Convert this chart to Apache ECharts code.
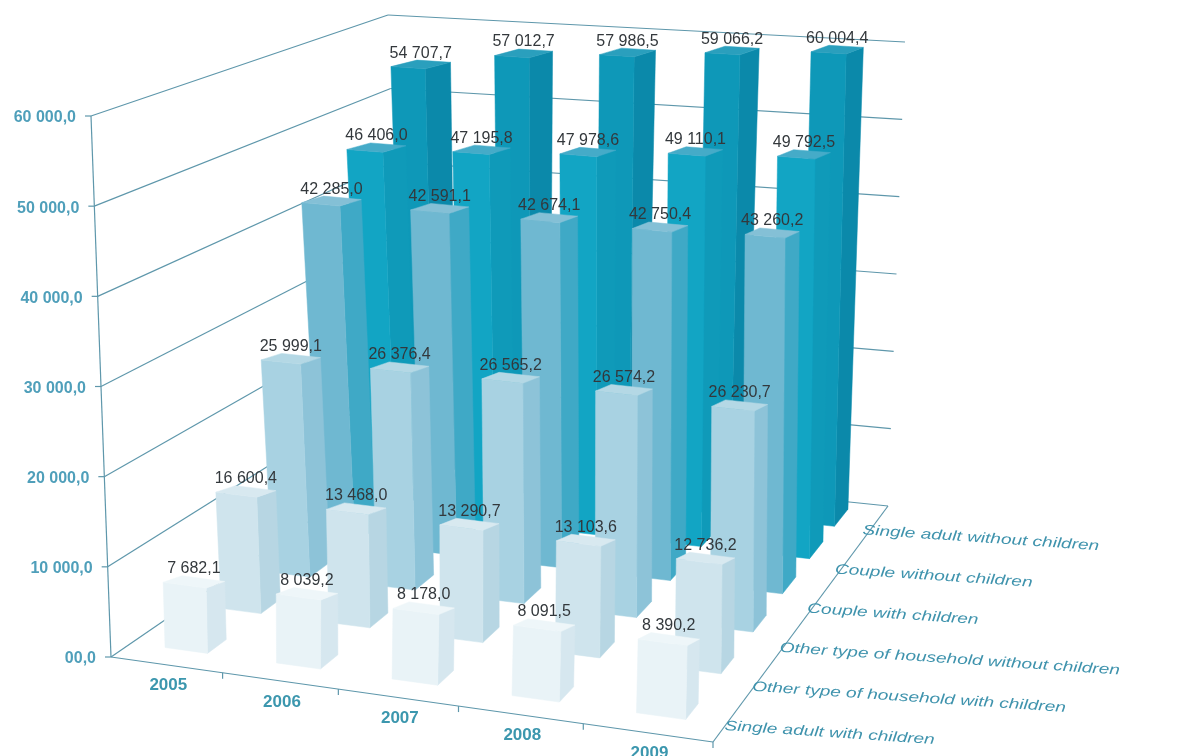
<!DOCTYPE html>
<html>
<head>
<meta charset="utf-8">
<style>html,body{margin:0;padding:0;background:#fff}#c{width:1177px;height:756px}</style>
<script src="https://cdn.jsdelivr.net/npm/echarts@6/dist/echarts.min.js"></script>
</head>
<body>
<div id="c"></div>
<script>
const years = ['2005','2006','2007','2008','2009'];
const yTicks = [0,10000,20000,30000,40000,50000,60000];
const yTickLabels = ['00,0','10 000,0','20 000,0','30 000,0','40 000,0','50 000,0','60 000,0'];
const households = ['Single adult with children','Other type of household with children','Other type of household without children','Couple with children','Couple without children','Single adult without children'];
const singleWith = [7682.1,8039.2,8178.0,8091.5,8390.2];
const otherWith = [16600.4,13468.0,13290.7,13103.6,12736.2];
const otherWithout = [25999.1,26376.4,26565.2,26574.2,26230.7];
const coupleWith = [42285.0,42591.1,42674.1,42750.4,43260.2];
const coupleWithout = [46406.0,47195.8,47978.6,49110.1,49792.5];
const singleWithout = [54707.7,57012.7,57986.5,59066.2,60004.4];
// the 2005 bar of this row is drawn shorter in the picture than its printed label
const otherWithDrawn = [13900,13468.0,13290.7,13103.6,12736.2];
const rows = [singleWith,otherWith,otherWithout,coupleWith,coupleWithout,singleWithout];
const drawnRows = [singleWith,otherWithDrawn,otherWithout,coupleWith,coupleWithout,singleWithout];
const frontColors = ['#e9f3f7','#cfe4ed','#a8d2e2','#6fb8d1','#12a5c4','#0e98b8'];
const sideColors  = ['#d6e7ef','#b7d6e3','#8dc3d8','#3fa9c6','#0f9ab9','#0b89aa'];
const topColors   = ['#eef6f9','#d8e9f0','#b4d8e5','#84c0d6','#45abc8','#2a9fbd'];

// picture corners of the 3D box: floor and top planes (FL, FR, BR, BL)
const floorQuad=[[111,657],[713,742],[888,506],[404,456]];
const topQuad=[[91,116],[725,182],[905,42],[388,15]];
function quadMap(q){const [p0,p1,p2,p3]=q;
  const dx1=p1[0]-p2[0],dx2=p3[0]-p2[0],dx3=p0[0]-p1[0]+p2[0]-p3[0];
  const dy1=p1[1]-p2[1],dy2=p3[1]-p2[1],dy3=p0[1]-p1[1]+p2[1]-p3[1];
  const den=dx1*dy2-dx2*dy1;
  const g=(dx3*dy2-dx2*dy3)/den,h=(dx1*dy3-dx3*dy1)/den;
  const a=p1[0]-p0[0]+g*p1[0],b=p3[0]-p0[0]+h*p3[0],c=p0[0];
  const d=p1[1]-p0[1]+g*p1[1],e=p3[1]-p0[1]+h*p3[1],f=p0[1];
  return (u,v)=>{const w=g*u+h*v+1;return [(a*u+b*v+c)/w,(d*u+e*v+f)/w];};}
function bilinear(q){return (u,v)=>[0,1].map(k=>(1-v)*((1-u)*q[0][k]+u*q[1][k])+v*((1-u)*q[3][k]+u*q[2][k]));}
const floorAt=quadMap(floorQuad),topAt=bilinear(topQuad);
function proj(u,v,z){const F=floorAt(u,v),T=topAt(u,v);return [F[0]+(T[0]-F[0])*z,F[1]+(T[1]-F[1])*z];}
// bars stand a little more upright and their tops sit slightly off the wall scale in the picture
function barProj(u,v,z){const p=proj(u,v,z);return [p[0]+5*z*(1-u)*(1-u),p[1]+(z>0?4-8*z:0)];}

const LINE='#5e97ab', AXIS_TEXT='#4f9fba', YEAR_TEXT='#3c97ae', HH_TEXT='#3f93ad';
const TOP_RISE=6.5;
const fmt=v=>{const s=v.toFixed(1).replace('.',',');const i=s.indexOf(',');return s.slice(0,i).replace(/\B(?=(\d{3})+$)/g,' ')+s.slice(i);};
function norm(api,params,xi,val){const pt=api.coord([xi,val]);const cs=params.coordSys;
  return {u:(pt[0]-cs.x)/cs.width,z:(cs.y+cs.height-pt[1])/cs.height,du:api.size([1,0])[0]/cs.width};}
function line(p,q,w,col){return {type:'line',z2:1,shape:{x1:p[0],y1:p[1],x2:q[0],y2:q[1]},style:{stroke:col||LINE,lineWidth:w||1.2}};}
function poly(pts,fill,z2){return {type:'polygon',z2:z2,shape:{points:pts},style:{fill:fill,stroke:fill,lineWidth:0.5}};}

const wallSeries={type:'custom',name:'axis',z:2,silent:true,data:yTicks.map(v=>[0,v]),encode:{x:0,y:1},
  renderItem(params,api){const n=norm(api,params,0,api.value(1));const z=n.z;
    const p0=proj(0,0,z),p1=proj(0,1,z),p2=proj(1,1,z);
    const kids=[line(p0,p1),line(p1,p2),line([p0[0]-6,p0[1]],p0)];
    kids.push({type:'text',z2:2,x:p0[0]-15,y:p0[1]+2,style:{text:yTickLabels[params.dataIndex],fill:AXIS_TEXT,align:'right',verticalAlign:'middle',font:'bold 16px "Liberation Sans", Arial, sans-serif'}});
    if(params.dataIndex===0){kids.push(line(p0,proj(0,0,1)));kids.push(line(p0,proj(1,0,0)));kids.push(line(proj(1,0,0),proj(1,1,0)));}
    return {type:'group',children:kids};}};
const yearSeries={type:'custom',name:'years',z:2,silent:true,data:years.map((y,i)=>[i,0]),encode:{x:0,y:1},
  renderItem(params,api){const i=params.dataIndex;const n=norm(api,params,i,0);
    const t=proj(n.u+n.du/2,0,0);const m=proj(n.u,0,0);
    return {type:'group',children:[line(t,[t[0],t[1]+6]),
      {type:'text',z2:2,x:m[0]+2,y:m[1]+21,style:{text:years[i],fill:YEAR_TEXT,align:'center',verticalAlign:'middle',font:'bold 17px "Liberation Sans", Arial, sans-serif'}}]};}};
const hhSeries={type:'custom',name:'households',z:2,silent:true,data:households.map((y,i)=>[0,0]),encode:{x:0,y:1},
  renderItem(params,api){const i=params.dataIndex,N=households.length,t=i/(N-1);
    const a=proj(1,0.5/N,0),b=proj(1,(N-0.5)/N,0);
    const x=a[0]+(b[0]-a[0])*t-7-7*t, y=a[1]+(b[1]-a[1])*t+9;
    return {type:'text',z2:2,x:x,y:y,rotation:-3.85*Math.PI/180,scaleX:1.36,scaleY:1,
      style:{text:households[i],fill:HH_TEXT,align:'left',verticalAlign:'middle',font:'italic 14px "Liberation Sans", Arial, sans-serif'}};}};
const barSeries=rows.map((vals,r)=>({type:'custom',name:households[r],z:2,silent:true,
  data:vals.map((v,i)=>[i,drawnRows[r][i],v]),encode:{x:0,y:1},
  renderItem(params,api){const i=api.value(0),val=api.value(1);const n=norm(api,params,i,val);
    const t=r/(households.length-1);
    const barW=0.385-0.055*t, barD=0.33+0.22*t;
    const hw=n.du*barW/2,dp=barD/households.length/2,v0=(r+0.5)/households.length;
    const u1=n.u-hw,u2=n.u+hw,v1=v0-dp,v2=v0+dp,z=n.z;
    const a0=barProj(u1,v1,0),b0=barProj(u2,v1,0),c0=barProj(u2,v2,0);
    const a1=barProj(u1,v1,z),b1=barProj(u2,v1,z);
    const c1=[barProj(u2,v2,z)[0],b1[1]-TOP_RISE],d1=[barProj(u1,v2,z)[0],a1[1]-TOP_RISE];
    const base=(5-r)*100+i*10+10;
    const cxT=(a1[0]+c1[0])/2, cyT=Math.min(c1[1],d1[1],a1[1]);
    return {type:'group',children:[
      poly([b0,c0,c1,b1],sideColors[r],base),
      poly([a0,b0,b1,a1],frontColors[r],base+1),
      poly([a1,b1,c1,d1],topColors[r],base+2),
      {type:'text',z2:2000,x:cxT,y:cyT-7,style:{text:fmt(api.value(2)),fill:'#33383c',align:'center',verticalAlign:'middle',font:'16px "Liberation Sans", Arial, sans-serif'}}
    ]};}}));

const chart=echarts.init(document.getElementById('c'),null,{renderer:'canvas'});
chart.setOption({animation:false,backgroundColor:'#ffffff',
  grid:{left:0,right:0,top:0,bottom:0},
  xAxis:{type:'category',data:years,show:false,boundaryGap:true},
  yAxis:{type:'value',min:0,max:60000,interval:10000,show:false},
  series:[wallSeries,yearSeries,hhSeries].concat(barSeries)});
</script>
</body>
</html>
